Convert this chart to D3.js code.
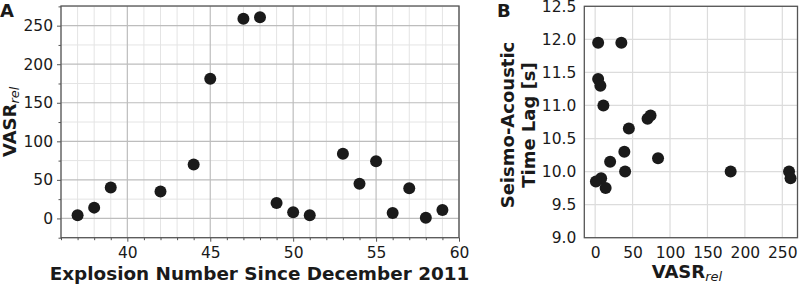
<!DOCTYPE html>
<html>
<head>
<meta charset="utf-8">
<script src="https://cdn.jsdelivr.net/npm/d3@7"></script>
<style>
  html, body { margin: 0; padding: 0; background: #fff; }
  svg { display: block; }
  text { font-family: "DejaVu Sans", sans-serif; }
</style>
</head>
<body>
<svg id="chart" width="799" height="284"></svg>
<script>
// ---- data ----
const explosionNumbers = [37, 38, 39, 42, 44, 45, 47, 48, 49, 50, 51, 53, 54, 55, 56, 57, 58, 59];
const vasrRel          = [4, 14, 40, 35, 70, 181, 259, 261, 20, 8, 4, 84, 45, 74, 7, 39, 1, 11];
const timeLag          = [11.95, 9.75, 10.0, 11.95, 10.8, 10.0, 10.0, 9.9, 10.15, 9.9, 11.4, 10.2, 10.65, 10.85, 11.3, 10.3, 9.85, 11.0];

const xTicksA = [40, 45, 50, 55, 60];
const yTicksA = [0, 50, 100, 150, 200, 250];
const xTicksB = [0, 50, 100, 150, 200, 250];
const yTicksB = [9.0, 9.5, 10.0, 10.5, 11.0, 11.5, 12.0, 12.5];

const svg = d3.select("#chart");
const dotColor = "#1a1a1a";
const spineColor = "#555";
const majorGrid = "#bdbdbd";
const minorGrid = "#e4e4e4";
const gridB = "#dcdcdc";

// ---------- Panel A ----------
const xA = d3.scaleLinear().domain([36, 60]).range([61, 459]);
const yA = d3.scaleLinear().domain([-25, 275.5]).range([237.7, 6]);
const gA = svg.append("g");

const minorX = d3.range(36, 61, 1).filter(v => !xTicksA.includes(v));
const minorY = d3.range(-25, 276, 25).filter(v => !yTicksA.includes(v));

gA.selectAll(".mgx").data(minorX).join("line")
  .attr("x1", d => xA(d)).attr("x2", d => xA(d))
  .attr("y1", yA.range()[0]).attr("y2", yA.range()[1])
  .attr("stroke", minorGrid).attr("stroke-width", 1);
gA.selectAll(".mgy").data(minorY).join("line")
  .attr("y1", d => yA(d)).attr("y2", d => yA(d))
  .attr("x1", xA.range()[0]).attr("x2", xA.range()[1])
  .attr("stroke", minorGrid).attr("stroke-width", 1);
gA.selectAll(".Mgx").data(xTicksA).join("line")
  .attr("x1", d => xA(d)).attr("x2", d => xA(d))
  .attr("y1", yA.range()[0]).attr("y2", yA.range()[1])
  .attr("stroke", majorGrid).attr("stroke-width", 1.2);
gA.selectAll(".Mgy").data(yTicksA).join("line")
  .attr("y1", d => yA(d)).attr("y2", d => yA(d))
  .attr("x1", xA.range()[0]).attr("x2", xA.range()[1])
  .attr("stroke", majorGrid).attr("stroke-width", 1.2);

const axXA = gA.append("g").attr("transform", `translate(0,${yA.range()[0]})`)
  .call(d3.axisBottom(xA).tickValues(xTicksA).tickFormat(d3.format("d")).tickSize(4).tickPadding(5));
const axXAm = gA.append("g").attr("transform", `translate(0,${yA.range()[0]})`)
  .call(d3.axisBottom(xA).tickValues(minorX).tickFormat("").tickSize(2.5));
const axYA = gA.append("g").attr("transform", `translate(${xA.range()[0]},0)`)
  .call(d3.axisLeft(yA).tickValues(yTicksA).tickFormat(d3.format("d")).tickSize(4).tickPadding(4));
const axYAm = gA.append("g").attr("transform", `translate(${xA.range()[0]},0)`)
  .call(d3.axisLeft(yA).tickValues(minorY).tickFormat("").tickSize(2.5));
[axXA, axXAm, axYA, axYAm].forEach(a => {
  a.select(".domain").remove();
  a.selectAll("line").attr("stroke", spineColor);
  a.selectAll("text").attr("font-size", 15.5).attr("fill", "#1a1a1a").attr("font-family", "DejaVu Sans");
});

gA.append("rect")
  .attr("x", xA.range()[0]).attr("y", yA.range()[1])
  .attr("width", xA.range()[1] - xA.range()[0]).attr("height", yA.range()[0] - yA.range()[1])
  .attr("fill", "none").attr("stroke", spineColor).attr("stroke-width", 1.3);

gA.selectAll(".dotA").data(explosionNumbers).join("circle")
  .attr("cx", d => xA(d)).attr("cy", (d, i) => yA(vasrRel[i]))
  .attr("r", 6).attr("fill", dotColor);

svg.append("text").attr("x", xA(48) - 0.5).attr("y", 280).attr("text-anchor", "middle")
  .attr("font-size", 18.4).attr("font-weight", "bold").attr("fill", "#1a1a1a")
  .text("Explosion Number Since December 2011");

const yLabA = svg.append("text").attr("transform", `translate(16,${(yA.range()[0] + yA.range()[1]) / 2}) rotate(-90)`)
  .attr("text-anchor", "middle").attr("fill", "#1a1a1a");
yLabA.append("tspan").attr("font-size", 18).attr("font-weight", "bold").text("VASR");
yLabA.append("tspan").attr("font-size", 13).attr("font-style", "italic").attr("dy", 3).text("rel");

svg.append("text").attr("x", 0).attr("y", 17).attr("font-size", 18).attr("font-weight", "bold")
  .attr("fill", "#1a1a1a").text("A");

// ---------- Panel B ----------
const xB = d3.scaleLinear().domain([-14.5, 270.3]).range([584.3, 797.5]);
const yB = d3.scaleLinear().domain([9.0, 12.5]).range([237.7, 6.3]);
const gB = svg.append("g");

gB.selectAll(".gbx").data(xTicksB).join("line")
  .attr("x1", d => xB(d)).attr("x2", d => xB(d))
  .attr("y1", yB.range()[0]).attr("y2", yB.range()[1])
  .attr("stroke", gridB).attr("stroke-width", 1.2);
gB.selectAll(".gby").data(yTicksB).join("line")
  .attr("y1", d => yB(d)).attr("y2", d => yB(d))
  .attr("x1", xB.range()[0]).attr("x2", xB.range()[1])
  .attr("stroke", gridB).attr("stroke-width", 1.2);

const axXB = gB.append("g").attr("transform", `translate(0,${yB.range()[0]})`)
  .call(d3.axisBottom(xB).tickValues(xTicksB).tickFormat(d3.format("d")).tickSize(0).tickPadding(9));
const axYB = gB.append("g").attr("transform", `translate(${xB.range()[0]},0)`)
  .call(d3.axisLeft(yB).tickValues(yTicksB).tickFormat(d3.format(".1f")).tickSize(0).tickPadding(8));
[axXB, axYB].forEach(a => {
  a.select(".domain").remove();
  a.selectAll("text").attr("font-size", 15.5).attr("fill", "#1a1a1a").attr("font-family", "DejaVu Sans");
});

gB.append("rect")
  .attr("x", xB.range()[0]).attr("y", yB.range()[1])
  .attr("width", xB.range()[1] - xB.range()[0]).attr("height", yB.range()[0] - yB.range()[1])
  .attr("fill", "none").attr("stroke", spineColor).attr("stroke-width", 1.3);

gB.selectAll(".dotB").data(vasrRel).join("circle")
  .attr("cx", d => xB(d)).attr("cy", (d, i) => yB(timeLag[i]))
  .attr("r", 6).attr("fill", dotColor);

const xLabB = svg.append("text").attr("x", (xB.range()[0] + xB.range()[1]) / 2 - 4).attr("y", 278)
  .attr("text-anchor", "middle").attr("fill", "#1a1a1a");
xLabB.append("tspan").attr("font-size", 18).attr("font-weight", "bold").text("VASR");
xLabB.append("tspan").attr("font-size", 13).attr("font-style", "italic").attr("dy", 3).text("rel");

const yMidB = (yB.range()[0] + yB.range()[1]) / 2 + 3;
svg.append("text").attr("transform", `translate(514,${yMidB}) rotate(-90)`)
  .attr("text-anchor", "middle").attr("font-size", 18).attr("font-weight", "bold").attr("fill", "#1a1a1a")
  .text("Seismo-Acoustic");
svg.append("text").attr("transform", `translate(535,${yMidB}) rotate(-90)`)
  .attr("text-anchor", "middle").attr("font-size", 18).attr("font-weight", "bold").attr("fill", "#1a1a1a")
  .text("Time Lag [s]");

svg.append("text").attr("x", 497).attr("y", 17).attr("font-size", 18).attr("font-weight", "bold")
  .attr("fill", "#1a1a1a").text("B");
</script>
</body>
</html>
